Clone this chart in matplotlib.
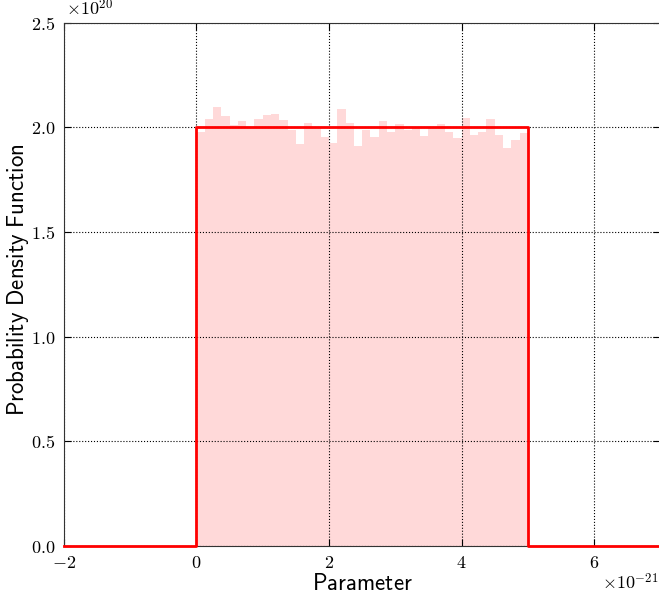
import numpy as np
import matplotlib
matplotlib.use("Agg")
import matplotlib.pyplot as plt
from matplotlib.ticker import FuncFormatter, MultipleLocator

plt.rcParams["mathtext.fontset"] = "cm"

# Uniform prior on [0, 5e-21]: sampled histogram (density) and exact PDF
lower = 0.0
upper = 5e-21
pdf_height = 2.0e20
n_bins = 40
hist_density = [
    1.98, 2.04, 2.10, 2.055, 2.01, 2.03, 2.00, 2.04, 2.06, 2.062,
    2.035, 1.99, 1.92, 2.022, 2.00, 1.955, 1.925, 2.087, 2.022, 1.91,
    1.987, 1.955, 2.03, 1.98, 2.015, 1.987, 2.00, 1.96, 2.00, 2.018,
    1.98, 1.95, 2.046, 1.966, 1.978, 2.038, 1.966, 1.90, 1.94, 1.975,
]
hist_scale = 1e20
x_min, x_max = -2e-21, 7e-21
y_min, y_max = 0.0, 2.5e20

edges = np.linspace(lower, upper, n_bins + 1)
heights = np.array(hist_density) * hist_scale

fig = plt.figure(figsize=(6.59, 6.0), dpi=100)
ax = fig.add_axes([0.097, 0.09, 0.905, 0.872])

ax.bar(edges[:-1], heights, width=np.diff(edges), align="edge",
       color="red", alpha=0.15, linewidth=0)

pdf_x = [x_min, lower, lower, upper, upper, x_max]
pdf_y = [0, 0, pdf_height, pdf_height, 0, 0]
ax.plot(pdf_x, pdf_y, color="red", linewidth=2, zorder=5, clip_on=False)

ax.set_xlim(x_min, x_max)
ax.set_ylim(y_min, y_max)
ax.xaxis.set_major_locator(MultipleLocator(2e-21))
ax.yaxis.set_major_locator(MultipleLocator(0.5e20))
ax.xaxis.set_major_formatter(FuncFormatter(lambda v, p: r"$%d$" % round(v / 1e-21)))
ax.yaxis.set_major_formatter(FuncFormatter(lambda v, p: r"$%.1f$" % (v / 1e20)))

ax.tick_params(direction="in", top=True, right=True, labelsize=13,
               length=5, pad=6)
ax.grid(True, color="black", linestyle=":", linewidth=0.8)
for s in ax.spines.values():
    s.set_color("#333333")

ax.text(0.004, 1.006, r"$\times10^{20}$", transform=ax.transAxes,
        fontsize=13, ha="left", va="bottom")
ax.text(0.997, -0.052, r"$\times10^{-21}$", transform=ax.transAxes,
        fontsize=13, ha="right", va="top")

ax.set_xlabel(r"$\mathsf{Parameter}$", fontsize=16.5)
ax.xaxis.set_label_coords(0.5, -0.05)
ax.set_ylabel(r"$\mathsf{Probability\ Density\ Function}$", fontsize=16.5)
ax.yaxis.set_label_coords(-0.056, 0.509)

fig.savefig("out.png", dpi=100, facecolor="white")
